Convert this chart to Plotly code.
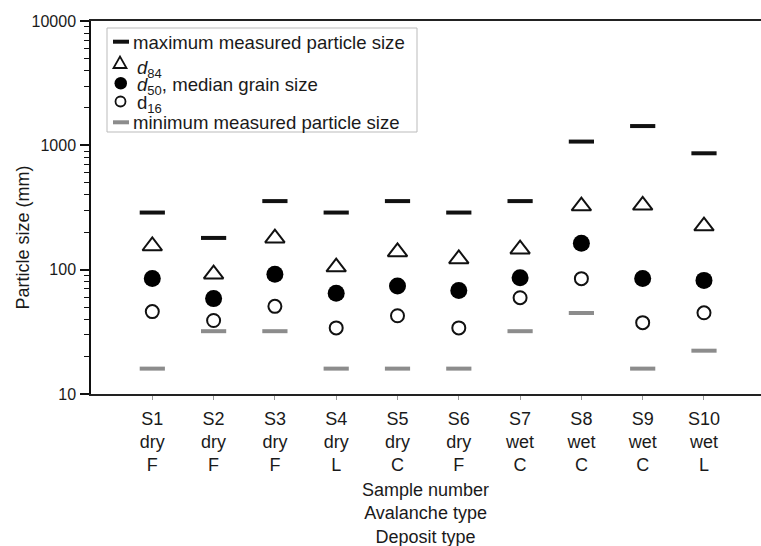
import plotly.graph_objects as go

samples = ["S1", "S2", "S3", "S4", "S5", "S6", "S7", "S8", "S9", "S10"]
avalanche_type = ["dry", "dry", "dry", "dry", "dry", "dry", "wet", "wet", "wet", "wet"]
deposit_type = ["F", "F", "F", "L", "C", "F", "C", "C", "C", "L"]

max_size = [288, 180, 356, 288, 356, 288, 356, 1072, 1429, 863]
d84 = [155, 92, 179, 105, 139, 122, 146, 325, 329, 224]
d50 = [85, 58.5, 92, 64.6, 74, 68, 86, 163, 85, 82]
d16 = [46, 39, 50.7, 34, 42.6, 34, 59.5, 84.7, 37.5, 45]
min_size = [16, 32, 32, 16, 16, 16, 32, 44.8, 16, 22.3]

y_major = [10, 100, 1000, 10000]

legend_labels = [
    "maximum measured particle size",
    "<i>d</i><sub>84</sub>",
    "<i>d</i><sub>50</sub>, median grain size",
    "d<sub>16</sub>",
    "minimum measured particle size",
]

xpos = list(range(1, len(samples) + 1))
ticktext = [f"{s}<br>{a}<br>{d}" for s, a, d in zip(samples, avalanche_type, deposit_type)]
minor_vals = [m * base for base in y_major[:-1] for m in range(2, 10)]

FONT = "Liberation Sans, Arial, sans-serif"
TXT = "#1a1a1a"
BLACK = "#111111"
GREY = "#8c8c8c"

W, H = 761, 546
ML, MR, MT, MB = 91, 0, 21, 152
PW, PH = W - ML - MR, H - MT - MB


def px(x):  # pixel x -> paper x
    return (x - ML) / PW


def py(y):  # pixel y -> paper y
    return (H - MB - y) / PH


fig = go.Figure()
fig.add_trace(go.Scatter(
    x=xpos, y=max_size, mode="markers", name=legend_labels[0],
    marker=dict(symbol="line-ew", size=18, line=dict(width=4, color=BLACK), color=BLACK)))
fig.add_trace(go.Scatter(
    x=xpos, y=d84, mode="markers", name=legend_labels[1],
    marker=dict(symbol="triangle-up-open", size=17, line=dict(width=2, color=BLACK), color=BLACK)))
fig.add_trace(go.Scatter(
    x=xpos, y=d50, mode="markers", name=legend_labels[2],
    marker=dict(symbol="circle", size=17, color="#000000", line=dict(width=0))))
fig.add_trace(go.Scatter(
    x=xpos, y=d16, mode="markers", name=legend_labels[3],
    marker=dict(symbol="circle-open", size=13, line=dict(width=2, color=BLACK), color=BLACK)))
fig.add_trace(go.Scatter(
    x=xpos, y=min_size, mode="markers", name=legend_labels[4],
    marker=dict(symbol="line-ew", size=18, line=dict(width=4, color=GREY), color=GREY)))

# ---- hand-built legend (box, keys, labels) ----
shapes = []
annotations = []
shapes.append(dict(type="rect", xref="paper", yref="paper",
                   x0=px(107), x1=px(417), y0=py(132), y1=py(28),
                   line=dict(color="#bbbbbb", width=1), fillcolor="white", layer="above"))
for yy, col in [(41.7, BLACK), (122.3, GREY)]:
    shapes.append(dict(type="line", xref="paper", yref="paper",
                       x0=px(113), x1=px(129), y0=py(yy), y1=py(yy),
                       line=dict(color=col, width=4), layer="above"))
shapes.append(dict(type="path", xref="paper", yref="paper",
                   path=f"M {px(113.5)} {py(68)} L {px(126.5)} {py(68)} L {px(120)} {py(56.5)} Z",
                   line=dict(color=BLACK, width=1.8), layer="above"))
shapes.append(dict(type="circle", xref="paper", yref="paper",
                   x0=px(114.5), x1=px(127), y0=py(89.5), y1=py(77),
                   line=dict(color="#000000", width=0), fillcolor="#000000", layer="above"))
shapes.append(dict(type="circle", xref="paper", yref="paper",
                   x0=px(115.5), x1=px(125.5), y0=py(106.5), y1=py(96.5),
                   line=dict(color=BLACK, width=1.8), layer="above"))

label_pos = [(131, 42.5), (135, 69), (135, 86), (135, 104), (131, 122.5)]
for lab, (lx, ly) in zip(legend_labels, label_pos):
    annotations.append(dict(text=lab, xref="paper", yref="paper", x=px(lx), y=py(ly),
                            xanchor="left", yanchor="middle", showarrow=False,
                            font=dict(family=FONT, size=18.6, color=TXT)))

annotations.append(dict(text="Particle size (mm)", xref="paper", yref="paper",
                        x=px(22), y=py(237.5), xanchor="center", yanchor="middle",
                        textangle=-90, showarrow=False,
                        font=dict(family=FONT, size=18, color=TXT)))
annotations.append(dict(text="Sample number<br>Avalanche type<br>Deposit type",
                        xref="paper", yref="paper", x=px(425), y=py(513),
                        xanchor="center", yanchor="middle", showarrow=False,
                        font=dict(family=FONT, size=18, color=TXT)))

fig.update_layout(
    width=W, height=H,
    margin=dict(l=ML, r=MR, t=MT, b=MB),
    paper_bgcolor="white", plot_bgcolor="white",
    font=dict(family=FONT, size=18, color=TXT),
    showlegend=False,
    shapes=shapes,
    annotations=annotations,
    xaxis=dict(
        range=[0, 10.93], tickvals=xpos, ticktext=ticktext,
        showline=True, linecolor="#222222", linewidth=2, mirror=True,
        ticks="outside", ticklen=4, tickcolor="#999999",
        ticklabelstandoff=3,
        showgrid=False, zeroline=False,
        tickfont=dict(family=FONT, size=18, color=TXT),
    ),
    yaxis=dict(
        type="log", range=[1, 4],
        tickvals=y_major, ticktext=[str(v) for v in y_major],
        showline=True, linecolor=BLACK, linewidth=1.5,
        ticks="outside", ticklen=9, tickcolor=BLACK, tickwidth=1.5,
        ticklabelstandoff=1,
        minor=dict(tickvals=minor_vals, ticks="outside", ticklen=5, tickcolor=BLACK,
                   tickwidth=1.2, showgrid=False),
        showgrid=False, zeroline=False,
        tickfont=dict(family=FONT, size=16, color=TXT),
    ),
)

fig.write_html("out.html", config={"displayModeBar": False},
               post_script="document.body.style.margin='0';")
